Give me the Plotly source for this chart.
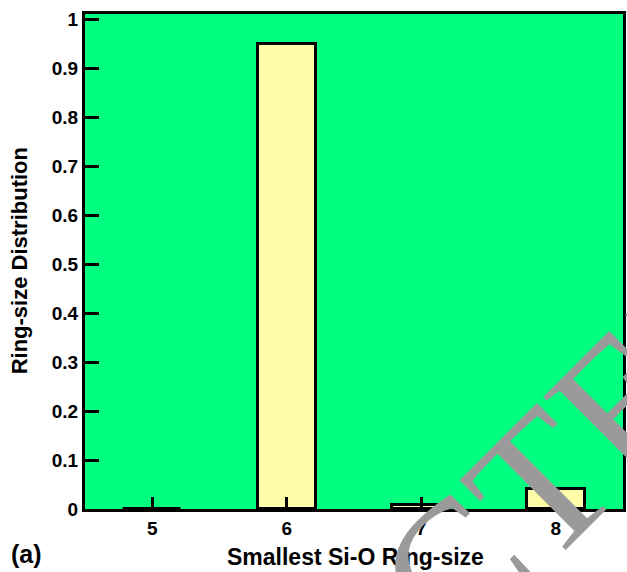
import plotly.graph_objects as go

# Smallest Si-O ring size distribution
ring_sizes = [5, 6, 7, 8]
fractions = [0.0, 0.95, 0.008, 0.04]
y_ticks = [0, 0.1, 0.2, 0.3, 0.4, 0.5, 0.6, 0.7, 0.8, 0.9, 1]
y_tick_labels = ["0", "0.1", "0.2", "0.3", "0.4", "0.5", "0.6", "0.7", "0.8", "0.9", "1"]

W, H = 627, 572
L, R, T, B = 85, 1, 14, 63

fig = go.Figure()
fig.add_trace(go.Bar(
    x=ring_sizes, y=fractions, width=0.43,
    marker=dict(color="#FFFCA8", line=dict(color="black", width=3)),
    hoverinfo="x+y",
))

font_axis = dict(family="Liberation Sans, Arial", size=19, color="black")

def px_to_paper_x(px):
    return (px - L) / (W - L - R)

def px_to_paper_y(py):
    return (H - B - py) / (H - T - B)

fig.update_layout(
    width=W, height=H,
    margin=dict(l=L, r=R, t=T, b=B),
    paper_bgcolor="white",
    plot_bgcolor="#00FF80",
    showlegend=False,
    bargap=0,
    xaxis=dict(
        range=[4.5, 8.5], tickmode="array", tickvals=ring_sizes,
        ticktext=[f"<b>{v}</b>" for v in ring_sizes],
        ticks="inside", ticklen=12, tickwidth=3, tickcolor="black",
        showline=True, linewidth=3, linecolor="black", mirror=True,
        showgrid=False, zeroline=False, tickfont=font_axis,
    ),
    yaxis=dict(
        range=[0, 1.011], tickmode="array", tickvals=y_ticks,
        ticktext=[f"<b>{t}</b>" for t in y_tick_labels],
        ticks="inside", ticklen=14, tickwidth=3, tickcolor="black",
        showline=True, linewidth=3, linecolor="black", mirror=True,
        showgrid=False, zeroline=False, tickfont=font_axis,
    ),
    annotations=[
        dict(text="<b>Smallest Si-O Ring-size</b>", xref="paper", yref="paper",
             x=px_to_paper_x(357), y=px_to_paper_y(557), showarrow=False,
             xanchor="center", yanchor="middle",
             font=dict(family="Liberation Sans, Arial", size=23, color="black")),
        dict(text="<b>Ring-size Distribution</b>", xref="paper", yref="paper",
             x=px_to_paper_x(19), y=px_to_paper_y(261), showarrow=False,
             xanchor="center", yanchor="middle", textangle=-90,
             font=dict(family="Liberation Sans, Arial", size=22, color="black")),
        dict(text="<b>(a)</b>", xref="paper", yref="paper",
             x=px_to_paper_x(26), y=px_to_paper_y(554), showarrow=False,
             xanchor="center", yanchor="middle",
             font=dict(family="Liberation Sans, Arial", size=25, color="black")),
        dict(text="RETRACTED", xref="paper", yref="paper",
             x=px_to_paper_x(367), y=px_to_paper_y(660), showarrow=False,
             xanchor="center", yanchor="middle", textangle=-45,
             font=dict(family="Liberation Serif, Times New Roman", size=190, color="#9a9a9a")),
    ],
)

fig.write_html("out.html")
